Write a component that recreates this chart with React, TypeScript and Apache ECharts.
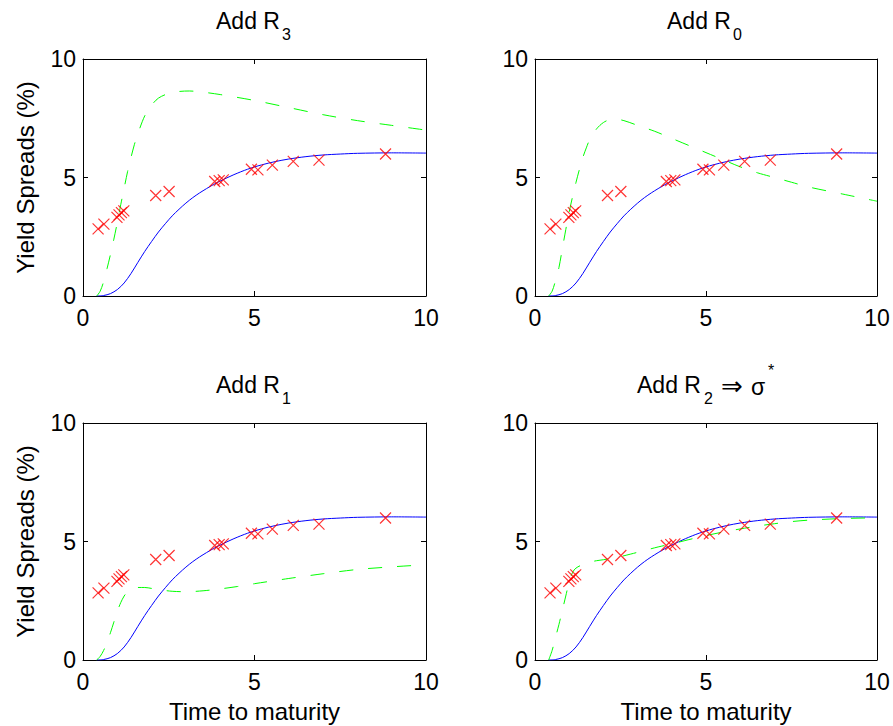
import React, { useEffect, useRef } from 'react';
import * as echarts from 'echarts';

// ---------- data ----------
const xTickValues = [0, 5, 10];
const yTickValues = [0, 5, 10];

// observed yield spreads (red crosses) — same in all panels
const obsX = [0.44, 0.61, 0.99, 1.05, 1.12, 1.19, 2.12, 2.51, 3.84, 3.97, 4.09, 4.91, 5.1, 5.52, 6.13, 6.88, 8.82];
const obsY = [2.83, 3.03, 3.32, 3.42, 3.52, 3.59, 4.24, 4.41, 4.83, 4.87, 4.9, 5.35, 5.32, 5.52, 5.68, 5.73, 5.99];

// blue solid curve — same in all panels
const baseX = [0.4, 0.6, 0.8, 1.0, 1.2, 1.4, 1.6, 1.8, 2.0, 2.2, 2.4, 2.6, 2.8, 3.0, 3.2, 3.4, 3.6, 3.8, 4.0, 4.4, 4.8, 5.2, 5.6, 6.0, 6.5, 7.0, 7.5, 8.0, 9.0, 10];
const baseY = [0, 0.02, 0.1, 0.27, 0.55, 0.95, 1.42, 1.88, 2.3, 2.7, 3.05, 3.38, 3.66, 3.92, 4.15, 4.35, 4.53, 4.7, 4.85, 5.12, 5.35, 5.53, 5.67, 5.78, 5.88, 5.95, 5.99, 6.02, 6.04, 6.03];

// green dashed curves, one per panel
const r3X = [0.4, 0.5, 0.6, 0.7, 0.8, 0.9, 1.0, 1.1, 1.2, 1.3, 1.4, 1.5, 1.6, 1.8, 2.0, 2.2, 2.5, 2.8, 3.1, 3.5, 4.0, 5.0, 6.0, 7.0, 8.0, 9.0, 10];
const r3Y = [0, 0.2, 0.6, 1.15, 1.75, 2.4, 3.1, 3.85, 4.55, 5.25, 5.85, 6.4, 6.85, 7.6, 8.05, 8.35, 8.55, 8.63, 8.65, 8.6, 8.5, 8.25, 7.95, 7.65, 7.4, 7.2, 7.0];

const r0X = [0.4, 0.5, 0.6, 0.7, 0.8, 0.9, 1.0, 1.1, 1.2, 1.3, 1.4, 1.5, 1.6, 1.8, 2.0, 2.2, 2.4, 2.6, 3.0, 3.5, 4.0, 4.5, 5.0, 5.5, 6.0, 6.5, 7.0, 7.5, 8.0, 9.0, 10];
const r0Y = [0, 0.2, 0.65, 1.2, 2.0, 2.8, 3.55, 4.2, 4.8, 5.35, 5.85, 6.25, 6.6, 7.05, 7.32, 7.44, 7.45, 7.4, 7.2, 6.95, 6.65, 6.35, 6.05, 5.75, 5.45, 5.2, 5.0, 4.8, 4.6, 4.3, 4.0];

const r1X = [0.4, 0.5, 0.6, 0.7, 0.8, 0.9, 1.0, 1.1, 1.2, 1.3, 1.4, 1.6, 1.8, 2.0, 2.3, 2.6, 3.0, 3.5, 4.0, 4.5, 5.0, 6.0, 7.0, 8.0, 9.0, 10];
const r1Y = [0, 0.15, 0.4, 0.75, 1.15, 1.6, 2.05, 2.42, 2.7, 2.88, 2.98, 3.06, 3.06, 3.02, 2.95, 2.9, 2.88, 2.92, 3.0, 3.1, 3.22, 3.44, 3.64, 3.82, 3.93, 4.02];

const r2X = [0.4, 0.5, 0.6, 0.7, 0.8, 0.9, 1.0, 1.1, 1.2, 1.4, 1.6, 1.8, 2.0, 2.4, 2.8, 3.2, 3.6, 4.0, 4.5, 5.0, 5.5, 6.0, 6.5, 7.0, 7.5, 8.0, 9.0, 10];
const r2Y = [0, 0.4, 0.95, 1.5, 2.1, 2.7, 3.3, 3.7, 3.88, 4.03, 4.13, 4.19, 4.23, 4.33, 4.47, 4.62, 4.77, 4.9, 5.08, 5.25, 5.4, 5.53, 5.65, 5.75, 5.84, 5.9, 5.97, 6.0];

const panelSub = ['3', '0', '1', '2'];
const yAxisTitle = 'Yield Spreads (%)';
const xAxisTitle = 'Time to maturity';

// ---------- layout ----------
const FONT = "'Liberation Sans', Arial, 'DejaVu Sans', sans-serif";
const FS = 23;
const AFS = 24;
const SUBFS = 16;
const grids = [
  { left: 83, top: 59, width: 343, height: 237 },
  { left: 535, top: 59, width: 342, height: 237 },
  { left: 83, top: 423, width: 343, height: 237 },
  { left: 535, top: 423, width: 342, height: 237 },
];

const zip = (xs: number[], ys: number[]) => xs.map((x, i) => [x, ys[i]]);

function buildOption() {
  const greens = [zip(r3X, r3Y), zip(r0X, r0Y), zip(r1X, r1Y), zip(r2X, r2Y)];
  const base = zip(baseX, baseY);
  const obs = zip(obsX, obsY);
  const axisLine = { show: true, onZero: false, lineStyle: { color: '#000', width: 1 } };
  const axisTick = { show: true, inside: true, length: 5, lineStyle: { color: '#000', width: 1 } };
  const xAxis: any[] = [];
  const yAxis: any[] = [];
  grids.forEach((_, i) => {
    xAxis.push({
      type: 'value', gridIndex: i, min: xTickValues[0], max: xTickValues[xTickValues.length - 1],
      interval: xTickValues[1] - xTickValues[0], position: 'bottom',
      axisLine, axisTick, splitLine: { show: false },
      axisLabel: { show: true, margin: 10, color: '#000', fontSize: FS, fontFamily: FONT, showMinLabel: true, showMaxLabel: true },
    });
  });
  grids.forEach((_, i) => {
    xAxis.push({
      type: 'value', gridIndex: i, min: xTickValues[0], max: xTickValues[xTickValues.length - 1],
      interval: xTickValues[1] - xTickValues[0], position: 'top',
      axisLine, axisTick, splitLine: { show: false }, axisLabel: { show: false },
    });
  });
  grids.forEach((_, i) => {
    yAxis.push({
      type: 'value', gridIndex: i, min: yTickValues[0], max: yTickValues[yTickValues.length - 1],
      interval: yTickValues[1] - yTickValues[0], position: 'left',
      axisLine, axisTick, splitLine: { show: false },
      axisLabel: { show: true, margin: 7, color: '#000', fontSize: FS, fontFamily: FONT, showMinLabel: true, showMaxLabel: true },
    });
  });
  grids.forEach((_, i) => {
    yAxis.push({
      type: 'value', gridIndex: i, min: yTickValues[0], max: yTickValues[yTickValues.length - 1],
      interval: yTickValues[1] - yTickValues[0], position: 'right',
      axisLine, axisTick, splitLine: { show: false }, axisLabel: { show: false },
    });
  });

  const series: any[] = [];
  grids.forEach((_, i) => {
    series.push({
      type: 'line', xAxisIndex: i, yAxisIndex: i, data: base, symbol: 'none', smooth: 0.3,
      lineStyle: { color: '#0000ff', width: 1 }, z: 2,
    });
    series.push({
      type: 'line', xAxisIndex: i, yAxisIndex: i, data: greens[i], symbol: 'none', smooth: 0.3,
      lineStyle: { color: '#00ff00', width: 1, type: [14, 15] }, z: 3,
    });
    series.push({
      type: 'scatter', xAxisIndex: i, yAxisIndex: i, data: obs,
      symbol: 'path://M0,0L11,11M11,0L0,11', symbolSize: 11,
      itemStyle: { color: 'rgba(0,0,0,0)', borderColor: '#ff0000', borderWidth: 1.2 }, z: 4,
    });
  });

  const txt = (text: string, x: number, y: number, size: number) => ({
    type: 'text', x, y,
    style: { text, fill: '#000', font: `${size}px ${FONT}`, align: 'left', verticalAlign: 'middle' },
  });

  const graphic: any[] = [
    // titles
    txt('Add R', 216, 21, FS), txt(panelSub[0], 282, 34, SUBFS),
    txt('Add R', 667, 21, FS), txt(panelSub[1], 733, 34, SUBFS),
    txt('Add R', 216, 385, FS), txt(panelSub[2], 282, 398, SUBFS),
    txt('Add R', 637, 385, FS), txt(panelSub[3], 704, 398, SUBFS),
    txt('\u21D2', 721, 386, 26), txt('\u03C3', 751, 387, FS), txt('*', 768, 370, SUBFS),
    // y titles
    { type: 'text', x: 25, y: 177.5, rotation: Math.PI / 2, style: { text: yAxisTitle, fill: '#000', font: `${AFS}px ${FONT}`, align: 'center', verticalAlign: 'middle' } },
    { type: 'text', x: 25, y: 541.5, rotation: Math.PI / 2, style: { text: yAxisTitle, fill: '#000', font: `${AFS}px ${FONT}`, align: 'center', verticalAlign: 'middle' } },
    // x titles
    { type: 'text', x: 254.5, y: 711, style: { text: xAxisTitle, fill: '#000', font: `${AFS}px ${FONT}`, align: 'center', verticalAlign: 'middle' } },
    { type: 'text', x: 706, y: 711, style: { text: xAxisTitle, fill: '#000', font: `${AFS}px ${FONT}`, align: 'center', verticalAlign: 'middle' } },
  ];

  return {
    animation: false,
    backgroundColor: '#fff',
    textStyle: { fontFamily: FONT },
    grid: grids.map((g) => ({ ...g, containLabel: false })),
    xAxis, yAxis, series, graphic,
  };
}

export default function App() {
  const ref = useRef<HTMLDivElement>(null);
  useEffect(() => {
    if (!ref.current) return;
    const chart = echarts.init(ref.current, undefined, { renderer: 'svg' });
    chart.setOption(buildOption() as any);
    return () => chart.dispose();
  }, []);
  return <div ref={ref} style={{ position: 'fixed', left: 0, top: 0, width: 893, height: 726, background: '#fff' }} />;
}
